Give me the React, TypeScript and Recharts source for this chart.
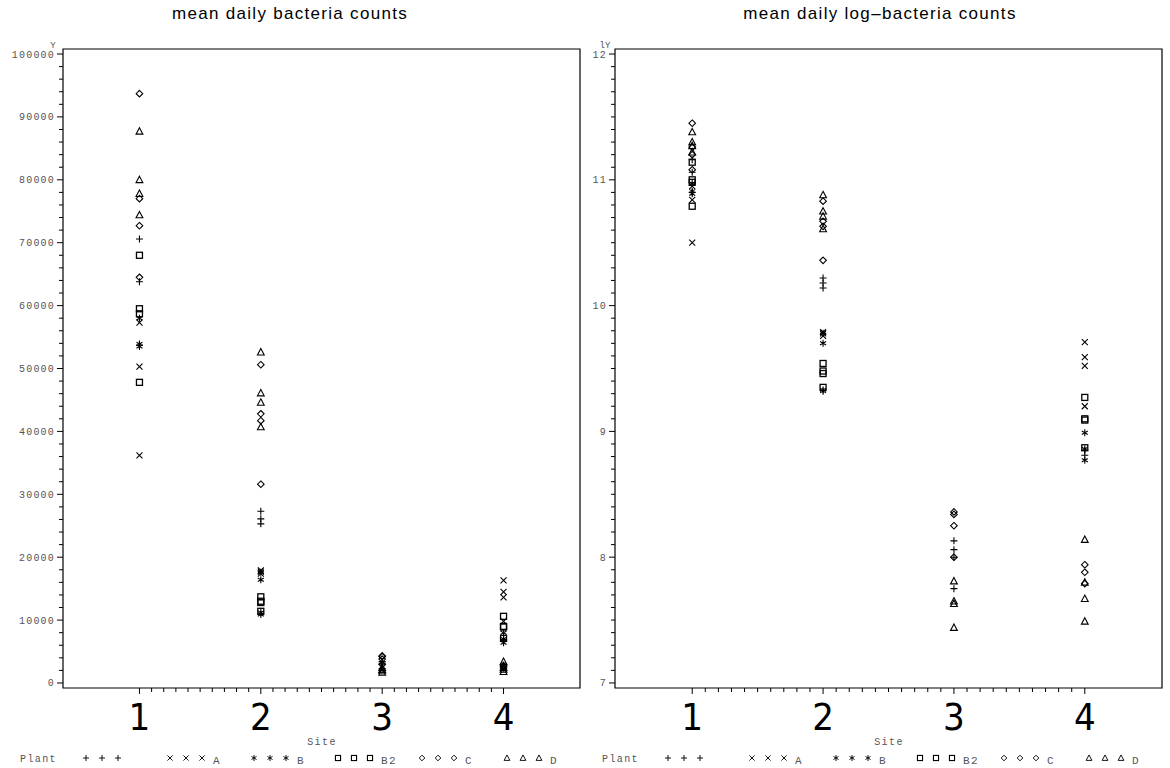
import React from 'react';
import { ScatterChart, Scatter, XAxis, YAxis, ReferenceArea } from 'recharts';

const SITES = [1, 2, 3, 4];
const SITE_LABELS = ['1', '2', '3', '4'];
const PLANT_NAMES = ['', 'A', 'B', 'B2', 'C', 'D'];
const PLANT_SHAPES = ['plus', 'cross', 'star', 'square', 'diamond', 'triangle'];

// mean daily bacteria counts: one inner list per site (1..4)
const countsPlain = [[70600, 63800, 53700], [27300, 26100, 25300], [3400, 3150, 2980, 2300], [6900, 6700]];
const countsA = [[57300, 50300, 36200], [17900, 17700, 17400], [], [16300, 14500, 13600, 9800]];
const countsB = [[58000, 53900, 53500], [17600, 16400, 11200, 10900], [], [8000, 7000, 6400]];
const countsB2 = [[68000, 59500, 58700, 47800], [13700, 13000, 12800, 11400], [], [10600, 9000, 8900, 7100]];
const countsC = [[93700, 77000, 72700, 64500], [50600, 42800, 41700, 31600], [4300, 4200, 3800, 2950], [2800, 2650, 2400]];
const countsD = [[87700, 80000, 77800, 74400], [52600, 46100, 44600, 40700], [2450, 2080, 2060, 1700], [3400, 2450, 2150, 1800]];

// mean daily log-bacteria counts
const logPlain = [[11.16, 11.06, 10.9], [10.22, 10.18, 10.14], [8.13, 8.06, 8.0, 7.75], [8.85, 8.81]];
const logA = [[10.95, 10.84, 10.5], [9.79, 9.78, 9.76], [], [9.71, 9.59, 9.52, 9.2]];
const logB = [[10.97, 10.91, 10.89], [9.78, 9.7, 9.33, 9.32], [], [8.99, 8.86, 8.77]];
const logB2 = [[11.14, 11.0, 10.98, 10.79], [9.54, 9.48, 9.46, 9.35], [], [9.27, 9.1, 9.09, 8.87]];
const logC = [[11.45, 11.26, 11.2, 11.08], [10.83, 10.67, 10.63, 10.36], [8.36, 8.34, 8.25, 8.0], [7.94, 7.88, 7.79]];
const logD = [[11.38, 11.3, 11.27, 11.22], [10.88, 10.75, 10.71, 10.61], [7.81, 7.65, 7.63, 7.44], [8.14, 7.8, 7.67, 7.49]];

const COUNT_TICKS = [0, 10000, 20000, 30000, 40000, 50000, 60000, 70000, 80000, 90000, 100000];
const COUNT_TICK_LABELS = ['0', '10000', '20000', '30000', '40000', '50000', '60000', '70000', '80000', '90000', '100000'];
const LOG_TICKS = [7, 8, 9, 10, 11, 12];
const LOG_TICK_LABELS = ['7', '8', '9', '10', '11', '12'];

const MONO = "'Liberation Mono', 'DejaVu Sans Mono', monospace";
const SANS = "'Liberation Sans', Arial, sans-serif";
const DIGIT = "'Liberation Sans Narrow', 'DejaVu Sans Condensed', 'DejaVu Sans', sans-serif";
const GREY = '#555';

const toPoints = (lists: number[][]) =>
  lists.flatMap((vals, i) => vals.map((v) => ({ site: SITES[i], value: v })));

const withMinors = (majors: number[], n: number) => {
  const out: number[] = [];
  for (let i = 0; i < majors.length; i++) {
    out.push(majors[i]);
    if (i < majors.length - 1) {
      const step = (majors[i + 1] - majors[i]) / (n + 1);
      for (let k = 1; k <= n; k++) out.push(Math.round((majors[i] + k * step) * 1000) / 1000);
    }
  }
  return out;
};

function Mark({ kind, cx, cy }: { kind: string; cx: number; cy: number }) {
  const p = { stroke: '#000', strokeWidth: 1.1, fill: 'none' } as any;
  if (cx == null || cy == null) return null;
  switch (kind) {
    case 'plus':
      return <path d={`M${cx - 3.5},${cy}H${cx + 3.5}M${cx},${cy - 3.5}V${cy + 3.5}`} {...p} />;
    case 'cross':
      return <path d={`M${cx - 3},${cy - 3}L${cx + 3},${cy + 3}M${cx - 3},${cy + 3}L${cx + 3},${cy - 3}`} {...p} />;
    case 'star':
      return (
        <path
          d={`M${cx},${cy - 3.5}V${cy + 3.5}M${cx - 3},${cy - 1.75}L${cx + 3},${cy + 1.75}M${cx - 3},${cy + 1.75}L${cx + 3},${cy - 1.75}`}
          {...p}
        />
      );
    case 'square':
      return <rect x={cx - 3} y={cy - 3} width={6} height={6} {...p} strokeWidth={1.3} />;
    case 'diamond':
      return <path d={`M${cx},${cy - 3.3}L${cx + 3.3},${cy}L${cx},${cy + 3.3}L${cx - 3.3},${cy}Z`} {...p} />;
    case 'triangle':
    default:
      return <path d={`M${cx},${cy - 3.6}L${cx + 3.4},${cy + 2.8}L${cx - 3.4},${cy + 2.8}Z`} {...p} />;
  }
}

type PanelProps = {
  series: number[][][];
  domainY: [number, number];
  majorsY: number[];
  labelsY: string[];
  minorsY: number;
  domainX: [number, number];
  axisWidth: number;
  marginRight: number;
  axisTag: string;
};

function Panel({ series, domainY, majorsY, labelsY, minorsY, domainX, axisWidth, marginRight, axisTag }: PanelProps) {
  const yTicks = withMinors(majorsY, minorsY);
  const xTicks = withMinors(SITES, 9);
  const YTick = (props: any) => {
    const { x, y, payload } = props;
    const idx = majorsY.indexOf(payload.value);
    const major = idx >= 0;
    const top = payload.value === majorsY[majorsY.length - 1];
    return (
      <g>
        <line x1={x - (major ? 6 : 4)} x2={x} y1={y} y2={y} stroke="#000" strokeWidth={1} />
        {major && (
          <text x={x - 8} y={y} dy="0.35em" textAnchor="end" fontFamily={MONO} fontSize={10} letterSpacing={1.2} fill={GREY}>
            {labelsY[idx]}
          </text>
        )}
        {top && (
          <text x={x - 10} y={y - 6} textAnchor="middle" fontFamily={MONO} fontSize={9} fill={GREY}>
            {axisTag}
          </text>
        )}
      </g>
    );
  };
  const XTick = (props: any) => {
    const { x, y, payload } = props;
    const idx = SITES.indexOf(payload.value);
    const major = idx >= 0;
    return (
      <g>
        <line x1={x} x2={x} y1={y} y2={y + (major ? 6 : 4)} stroke="#000" strokeWidth={1} />
        {major && (
          <text
            x={x}
            y={y + 42}
            textAnchor="middle"
            fontFamily={DIGIT}
            fontWeight={300}
            fontSize={38}
            style={{ fontStretch: 'condensed' }}
            fill="#000"
          >
            {SITE_LABELS[idx]}
          </text>
        )}
      </g>
    );
  };
  return (
    <ScatterChart width={585} height={768} margin={{ top: 49, right: marginRight, bottom: 30, left: 0 }}>
      <XAxis
        type="number"
        dataKey="site"
        domain={domainX}
        ticks={xTicks}
        interval={0}
        tickSize={0}
        tickMargin={0}
        axisLine={false}
        tick={XTick}
        height={50}
        allowDataOverflow
      />
      <YAxis
        type="number"
        dataKey="value"
        domain={domainY}
        ticks={yTicks}
        interval={0}
        tickSize={0}
        tickMargin={0}
        axisLine={false}
        tick={YTick}
        width={axisWidth}
        allowDataOverflow
      />
      <ReferenceArea
        x1={domainX[0]}
        x2={domainX[1]}
        y1={domainY[0]}
        y2={domainY[1]}
        fill="none"
        fillOpacity={0}
        stroke="#000"
        strokeWidth={1.2}
        ifOverflow="visible"
      />
      {series.map((s, i) => (
        <Scatter
          key={i}
          name={PLANT_NAMES[i]}
          data={toPoints(s)}
          isAnimationActive={false}
          shape={(p: any) => <Mark kind={PLANT_SHAPES[i]} cx={p.cx} cy={p.cy} />}
        />
      ))}
    </ScatterChart>
  );
}

function Legend({ left }: { left: number }) {
  const groupStart = [86, 170, 254, 338, 422, 507];
  return (
    <g transform={`translate(${left},0)`}>
      <text x={20} y={762} fontFamily={MONO} fontSize={10} letterSpacing={1.4} fill={GREY}>
        Plant
      </text>
      {PLANT_SHAPES.map((k, i) => (
        <g key={k}>
          {[0, 1, 2].map((j) => (
            <g key={j} transform={`translate(${groupStart[i] + j * 16},758) scale(0.85)`}>
              <Mark kind={k} cx={0} cy={0} />
            </g>
          ))}
          <text x={groupStart[i] + 43} y={764} fontFamily={MONO} fontSize={11} letterSpacing={1.4} fill={GREY}>
            {PLANT_NAMES[i]}
          </text>
        </g>
      ))}
    </g>
  );
}

export default function App() {
  return (
    <div style={{ position: 'absolute', left: 0, top: 0, width: 1170, height: 768, background: '#fff', overflow: 'hidden' }}>
      <div style={{ position: 'absolute', left: 0, top: 0 }}>
        <Panel
          series={[countsPlain, countsA, countsB, countsB2, countsC, countsD]}
          domainY={[-795, 100795]}
          majorsY={COUNT_TICKS}
          labelsY={COUNT_TICK_LABELS}
          minorsY={4}
          domainX={[0.37, 4.63]}
          axisWidth={63}
          marginRight={5}
          axisTag="Y"
        />
      </div>
      <div style={{ position: 'absolute', left: 585, top: 0 }}>
        <Panel
          series={[logPlain, logA, logB, logB2, logC, logD]}
          domainY={[6.96, 12.04]}
          majorsY={LOG_TICKS}
          labelsY={LOG_TICK_LABELS}
          minorsY={9}
          domainX={[0.41, 4.59]}
          axisWidth={30}
          marginRight={8}
          axisTag="lY"
        />
      </div>
      <svg width={1170} height={768} style={{ position: 'absolute', left: 0, top: 0, pointerEvents: 'none' }}>
        <text x={290} y={19} textAnchor="middle" fontFamily={SANS} fontSize={17} letterSpacing={1.3} fill="#000">
          mean daily bacteria counts
        </text>
        <text x={880} y={19} textAnchor="middle" fontFamily={SANS} fontSize={17} letterSpacing={1.3} fill="#000">
          mean daily log{'\u2013'}bacteria counts
        </text>
        <text x={322} y={745} textAnchor="middle" fontFamily={MONO} fontSize={10} letterSpacing={1.4} fill={GREY}>
          Site
        </text>
        <text x={889} y={745} textAnchor="middle" fontFamily={MONO} fontSize={10} letterSpacing={1.4} fill={GREY}>
          Site
        </text>
        <Legend left={0} />
        <Legend left={582} />
      </svg>
    </div>
  );
}
